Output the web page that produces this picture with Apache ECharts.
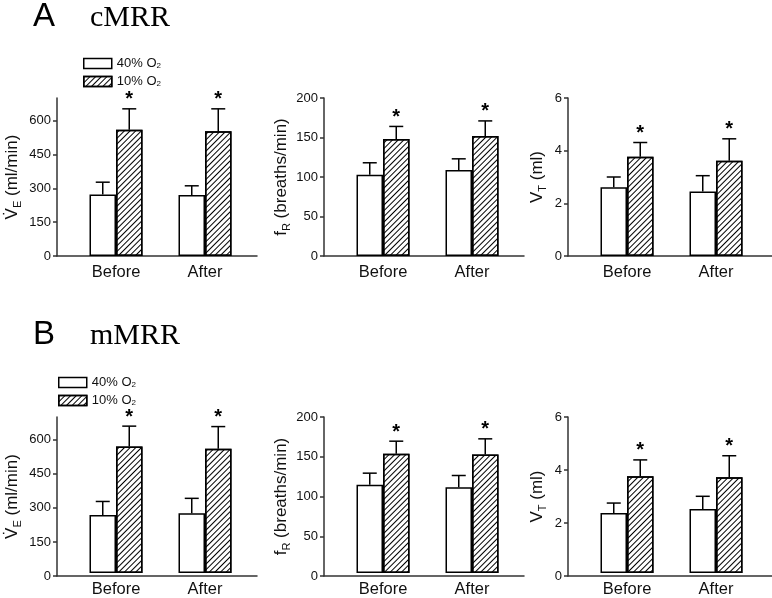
<!DOCTYPE html>
<html>
<head>
<meta charset="utf-8">
<script src="https://cdn.jsdelivr.net/npm/echarts@6/dist/echarts.min.js"></script>
<style>
  html, body { margin: 0; padding: 0; background: #fff; }
  #chart { width: 772px; height: 598px; }
</style>
</head>
<body>
<div id="chart"></div>
<script>
const categories = ['Before', 'After'];
const legendNames = ['40% O2', '10% O2'];

// A  cMRR  (mean, SEM upper)
const veA40 = [273, 270], veA40Err = [54, 41];
const veA10 = [559, 553], veA10Err = [93, 99];
const frA40 = [103, 109], frA40Err = [15, 14];
const frA10 = [148, 152], frA10Err = [16, 19];
const vtA40 = [2.61, 2.45], vtA40Err = [0.39, 0.6];
const vtA10 = [3.77, 3.62], vtA10Err = [0.54, 0.83];

// B  mMRR
const veB40 = [260, 268], veB40Err = [61, 67];
const veB10 = [568, 557], veB10Err = [91, 100];
const frB40 = [113, 110], frB40Err = [15, 15];
const frB10 = [153, 152], frB10Err = [16, 20];
const vtB40 = [2.31, 2.46], vtB40Err = [0.38, 0.49];
const vtB10 = [3.72, 3.68], vtB10Err = [0.63, 0.83];

// tick labels
const veTicks = [0, 150, 300, 450, 600];
const frTicks = [0, 50, 100, 150, 200];
const vtTicks = [0, 2, 4, 6];

const axisColor = '#333';
const barW = 26.5;
const sans = '"Liberation Sans", Arial, sans-serif';

const rows = [
  { top: 98, height: 158, letter: 'A', label: 'cMRR', titleTop: 0, legendLeft: 83, legendTop: 57,
    data: [[veA40, veA40Err, veA10, veA10Err], [frA40, frA40Err, frA10, frA10Err], [vtA40, vtA40Err, vtA10, vtA10Err]] },
  { top: 417, height: 159, letter: 'B', label: 'mMRR', titleTop: 318, legendLeft: 58, legendTop: 376,
    data: [[veB40, veB40Err, veB10, veB10Err], [frB40, frB40Err, frB10, frB10Err], [vtB40, vtB40Err, vtB10, vtB10Err]] }
];

const cols = [
  { x0: 57, width: 200, max: 700, ticks: veTicks, nameGap: 34, name: 'V\u0307{sub|E} (ml/min)' },
  { x0: 324, width: 200, max: 200, ticks: frTicks, nameGap: 31, name: 'f{sub|R} (breaths/min)' },
  { x0: 568, width: 206, max: 6, ticks: vtTicks, nameGap: 20, name: 'V{sub|T} (ml)' }
];

const hatch = {
  symbol: 'rect', symbolSize: 1, color: '#000',
  dashArrayX: [1, 0], dashArrayY: [1, 2.2], rotation: -Math.PI / 4
};

function errSeries(g, means, errs, offset, star) {
  return {
    type: 'custom', xAxisIndex: g, yAxisIndex: g, z: 5, silent: true,
    data: categories.map((c, i) => [i, means[i], errs[i]]),
    renderItem: (params, api) => {
      const base = api.coord([api.value(0), api.value(1)]);
      const top = api.coord([api.value(0), api.value(1) + api.value(2)]);
      const x = base[0] + offset;
      const kids = [
        { type: 'line', shape: { x1: x, y1: base[1], x2: x, y2: top[1] }, style: { stroke: '#000', lineWidth: 1.5 } },
        { type: 'line', shape: { x1: x - 7, y1: top[1], x2: x + 7, y2: top[1] }, style: { stroke: '#000', lineWidth: 1.5 } }
      ];
      if (star) {
        kids.push({ type: 'text', x: x, y: top[1] - 9,
          style: { text: '*', align: 'center', verticalAlign: 'middle', font: 'bold 20px ' + sans, fill: '#000' } });
      }
      return { type: 'group', children: kids };
    }
  };
}

const grid = [], xAxis = [], yAxis = [], series = [], title = [], legend = [];

rows.forEach((row, r) => {
  title.push({ text: row.letter, left: 33, top: row.titleTop, padding: 0,
    textStyle: { fontFamily: sans, fontSize: 33, fontWeight: 'normal', color: '#000' } });
  title.push({ text: row.label, left: 90, top: row.titleTop + 3, padding: 0,
    textStyle: { fontFamily: '"Liberation Serif", "Times New Roman", serif', fontSize: 30, fontWeight: 'normal', color: '#000' } });
  legend.push({
    data: legendNames, orient: 'vertical', left: row.legendLeft, top: row.legendTop, padding: 0,
    itemWidth: 28, itemHeight: 10, itemGap: 5, icon: 'rect', selectedMode: false,
    itemStyle: { borderColor: '#000', borderWidth: 1.5 },
    formatter: n => n.replace('O2', 'O{sub|2}'),
    textStyle: { fontFamily: sans, fontSize: 13, color: '#111',
      rich: { sub: { fontSize: 8, verticalAlign: 'bottom', lineHeight: 8 } } }
  });

  cols.forEach((col, c) => {
    const g = (r * 3 + c) * 2;
    const [m40, e40, m10, e10] = row.data[c];
    grid.push({ left: col.x0, top: row.top, width: col.width, height: row.height });
    grid.push({ left: col.x0 + 14.5, top: row.top, width: 178, height: row.height });

    xAxis.push({ gridIndex: g, type: 'category', data: categories,
      axisLine: { lineStyle: { color: axisColor, width: 1.5 } },
      axisTick: { show: false }, axisLabel: { show: false } });
    xAxis.push({ gridIndex: g + 1, type: 'category', data: categories,
      axisLine: { show: false }, axisTick: { show: false },
      axisLabel: { fontFamily: sans, fontSize: 16.5, color: '#111', margin: 8 } });

    yAxis.push({ gridIndex: g, type: 'value', min: 0, max: col.max,
      axisLine: { show: true, lineStyle: { color: axisColor, width: 1.5 } },
      axisTick: { show: true, length: 4, customValues: col.ticks, lineStyle: { color: axisColor, width: 1.5 } },
      axisLabel: { customValues: col.ticks, fontFamily: sans, fontSize: 13, color: '#111', margin: 6 },
      splitLine: { show: false },
      name: col.name, nameLocation: 'middle', nameGap: col.nameGap, nameRotate: 90,
      nameTextStyle: { fontFamily: sans, fontSize: 17, color: '#111', lineHeight: 22,
        rich: { sub: { fontSize: 11, verticalAlign: 'bottom', lineHeight: 11 } } } });
    yAxis.push({ gridIndex: g + 1, type: 'value', min: 0, max: col.max, show: false });

    series.push({ type: 'bar', name: legendNames[0], xAxisIndex: g + 1, yAxisIndex: g + 1,
      data: m40, barWidth: barW, barGap: '0%', silent: true,
      itemStyle: { color: '#fff', borderColor: '#000', borderWidth: 1.5 } });
    series.push({ type: 'bar', name: legendNames[1], xAxisIndex: g + 1, yAxisIndex: g + 1,
      data: m10, barWidth: barW, barGap: '0%', silent: true,
      itemStyle: { color: '#fff', borderColor: '#000', borderWidth: 1.5, decal: hatch } });
    series.push(errSeries(g + 1, m40, e40, -barW / 2, false));
    series.push(errSeries(g + 1, m10, e10, barW / 2, true));
  });
});

const chart = echarts.init(document.getElementById('chart'));
chart.setOption({
  backgroundColor: '#fff',
  animation: false,
  title, legend, grid, xAxis, yAxis, series
});
</script>
</body>
</html>
